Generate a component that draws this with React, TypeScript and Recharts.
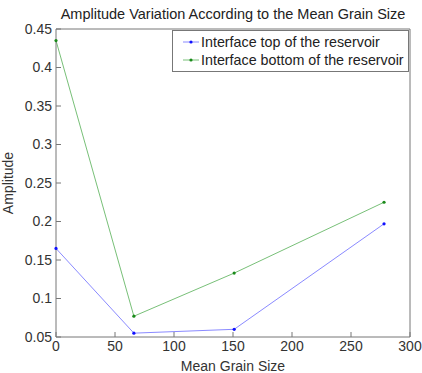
import { LineChart, Line, XAxis, YAxis } from "recharts";

const grainSize = [0, 66, 151, 278];
const topAmplitude = [0.165, 0.055, 0.06, 0.197];
const bottomAmplitude = [0.435, 0.077, 0.133, 0.225];
const xTicks = [0, 50, 100, 150, 200, 250, 300];
const yTicks = [0.05, 0.1, 0.15, 0.2, 0.25, 0.3, 0.35, 0.4, 0.45];

const data = grainSize.map((x, i) => ({
  x,
  top: topAmplitude[i],
  bottom: bottomAmplitude[i],
}));

const FONT = "Liberation Sans, Arial, sans-serif";
const AXIS = "#777";

// the second series is tied to the top/right axes (same domains) so the frame gets drawn
const series = [
  { key: "top", name: "Interface top of the reservoir", line: "#8a8aff", dot: "#1010ff", xId: 0, yId: 0 },
  { key: "bottom", name: "Interface bottom of the reservoir", line: "#78c078", dot: "#1a8a1a", xId: "top", yId: "right" },
];

function LegendBox() {
  return (
    <div
      style={{
        position: "absolute",
        left: 172,
        top: 30,
        boxSizing: "border-box",
        width: 237,
        height: 42,
        border: `1px solid ${AXIS}`,
        background: "#fff",
        padding: "2px 0 0 10px",
        fontFamily: FONT,
        fontSize: 14.3,
        color: "#222",
        lineHeight: "18px",
        whiteSpace: "nowrap",
      }}
    >
      {series.map((s) => (
        <div key={s.key} style={{ display: "flex", alignItems: "center" }}>
          <svg width={18} height={10}>
            <line x1={0} y1={5} x2={16} y2={5} stroke={s.line} strokeWidth={1} />
            <circle cx={8} cy={5} r={1.6} fill={s.dot} />
          </svg>
          <span>{s.name}</span>
        </div>
      ))}
    </div>
  );
}

export default function App() {
  const tickStyle = { fontSize: 14, fill: "#333", fontFamily: FONT };
  return (
    <div style={{ position: "absolute", left: 0, top: 0, width: 422, height: 373, background: "#fff" }}>
      <div
        style={{
          position: "absolute",
          left: 33,
          width: 400,
          top: 5,
          textAlign: "center",
          fontFamily: FONT,
          fontSize: 14.5,
          lineHeight: "18px",
          color: "#222",
          whiteSpace: "nowrap",
        }}
      >
        Amplitude Variation According to the Mean Grain Size
      </div>
      <LineChart width={422} height={373} data={data} margin={{ top: 28, right: 11, bottom: 0, left: 0 }}>
        <XAxis
          dataKey="x"
          type="number"
          domain={[0, 300]}
          ticks={xTicks}
          height={36}
          stroke={AXIS}
          tickSize={-5}
          tickMargin={9}
          tick={tickStyle}
          label={{ value: "Mean Grain Size", position: "insideBottom", offset: 2, style: { ...tickStyle, textAnchor: "middle" } }}
        />
        <XAxis
          xAxisId="top"
          orientation="top"
          dataKey="x"
          type="number"
          domain={[0, 300]}
          ticks={xTicks}
          height={1}
          stroke={AXIS}
          tickSize={-5}
          tick={false}
        />
        <YAxis
          type="number"
          domain={[0.05, 0.45]}
          ticks={yTicks}
          width={56}
          stroke={AXIS}
          tickSize={-5}
          tickMargin={9}
          tick={tickStyle}
          tickFormatter={(v: number) => String(Number(v.toFixed(2)))}
          label={{ value: "Amplitude", angle: -90, position: "insideLeft", offset: 8, style: { ...tickStyle, textAnchor: "middle" } }}
        />
        <YAxis
          yAxisId="right"
          orientation="right"
          type="number"
          domain={[0.05, 0.45]}
          ticks={yTicks}
          width={1}
          stroke={AXIS}
          tickSize={-5}
          tick={false}
        />
        {series.map((s) => (
          <Line
            key={s.key}
            dataKey={s.key}
            name={s.name}
            xAxisId={s.xId}
            yAxisId={s.yId}
            type="linear"
            stroke={s.line}
            strokeWidth={1}
            dot={{ r: 1.6, fill: s.dot, stroke: s.dot, strokeWidth: 0 }}
            activeDot={false}
            isAnimationActive={false}
          />
        ))}
      </LineChart>
      <LegendBox />
    </div>
  );
}
